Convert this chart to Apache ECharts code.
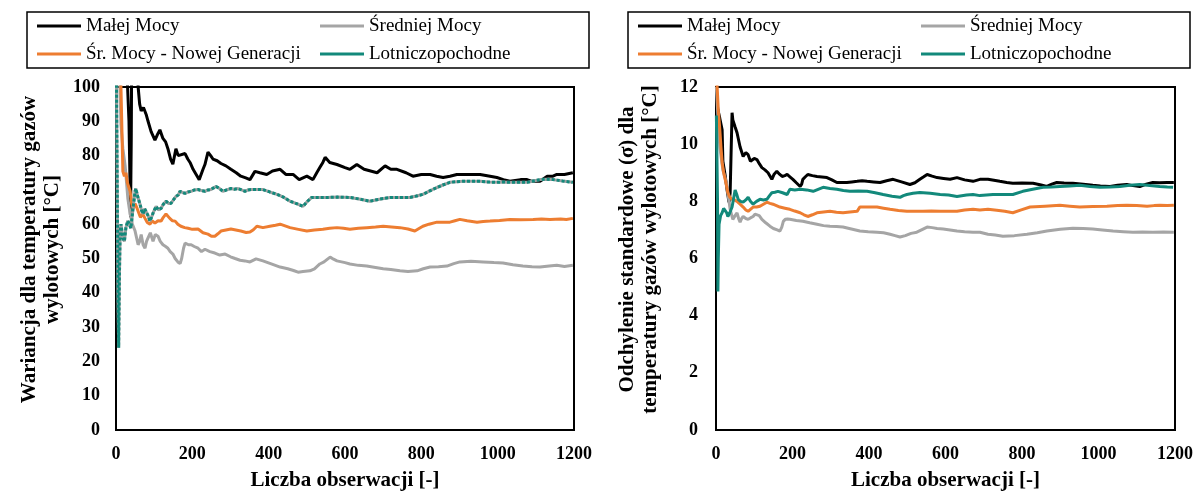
<!DOCTYPE html>
<html>
<head>
<meta charset="utf-8">
<script src="https://cdn.jsdelivr.net/npm/echarts@6/dist/echarts.min.js"></script>
<style>
html,body{margin:0;padding:0;background:#fff;}
#chart{width:1198px;height:496px;}
</style>
</head>
<body>
<div id="chart"></div>
<script>
// Series names
const seriesNames = ['Małej Mocy', 'Średniej Mocy', 'Śr. Mocy - Nowej Generacji', 'Lotniczopochodne'];

// Left chart: variance [°C] vs number of observations
const varMalej = [[1,135],[8,128],[16,118],[24,108],[30,101],[34,90],[37,70],[38,62],[40,85],[42,128],[48,124],[55,108],[58,100],[62,95],[66,93],[72,94],[79,92],[84,90],[92,87],[102,84.5],[108,86],[115,87.5],[123,85],[130,84],[136,82],[143,79],[149,77.5],[157,82],[163,80],[168,80],[181,80.6],[188,79],[194,78],[202,76],[210,74.5],[218,73],[223,72.5],[228,76],[233,77.4],[241,81],[248,80],[254,79],[265,78.5],[275,77.7],[288,77],[301,76],[315,75],[327,74],[340,73.5],[351,73],[364,75.4],[377,75],[395,74.5],[410,75.5],[430,76],[445,74.5],[464,74.5],[480,73],[500,74],[516,73],[526,75],[534,76.5],[542,78],[548,79.5],[560,78],[579,77.4],[600,76.5],[613,76],[631,77.4],[650,76],[684,75],[705,77],[720,76],[736,76],[760,75],[778,74],[800,74.5],[823,74.5],[840,74],[857,73.6],[875,74],[893,74.5],[920,74.5],[954,74.5],[980,74],[998,73.6],[1015,73],[1032,72.5],[1060,73],[1077,73],[1090,72.5],[1111,72.5],[1130,74],[1145,74],[1155,74.5],[1175,74.5],[1197,75]];
const varSredniej = [[1,140],[5,125],[9,105],[13,89],[18,82],[24,77],[31,67.5],[37,63],[43,60],[50,58],[54,56],[58,54],[62,55],[66,57],[71,54],[76,53],[80,55],[84,56],[90,57.5],[97,55],[103,57],[110,56.5],[116,55],[123,54],[130,53.5],[136,53],[142,52],[149,51.3],[155,50],[162,49],[168,48.5],[172,50],[177,53],[181,54.5],[190,54],[197,54],[205,53.5],[215,53],[224,52],[233,52.7],[246,52],[259,51.6],[272,51],[286,51.3],[300,50.5],[312,50],[325,49.5],[338,49.3],[351,49],[367,49.9],[385,49.3],[405,48.5],[430,47.5],[450,47],[465,46.5],[477,46],[490,46.2],[508,46.4],[520,47],[534,48.4],[545,49],[555,49.9],[561,50.4],[570,49.8],[579,49.3],[600,48.8],[613,48.4],[635,48],[657,47.8],[680,47.4],[700,47],[720,46.8],[744,46.4],[765,46.2],[789,46.4],[805,47],[823,47.5],[845,47.6],[867,47.8],[885,48.5],[901,49],[930,49.2],[962,49],[990,48.8],[1014,48.7],[1040,48.2],[1066,47.8],[1090,47.6],[1111,47.5],[1135,47.8],[1155,48],[1175,47.7],[1197,48]];
const varNowej = [[1,150],[5,130],[10,112],[13,100],[16,85],[18,75.4],[22,74],[26,75],[30,72],[37,69.6],[41,66],[45,64.6],[50,66],[54,65],[58,63.8],[64,62],[70,63],[76,61.7],[82,60.5],[89,60],[95,61],[102,60.3],[110,61],[118,60.9],[124,62],[131,63],[136,62.5],[141,61.7],[148,61],[155,60.9],[162,60],[170,59.4],[180,59],[189,58.8],[200,58.5],[215,58.6],[228,57.5],[241,57.1],[250,56.5],[259,56.5],[267,57.2],[275,58],[288,58.3],[301,58.6],[314,58.3],[327,58],[341,57.6],[351,57.7],[360,58.4],[369,59.4],[385,59],[403,59.4],[418,59.7],[430,60],[443,59.5],[456,59],[478,58.5],[500,58],[520,58.3],[542,58.5],[560,58.8],[579,59],[596,58.8],[613,58.5],[635,58.8],[657,59],[680,59.2],[700,59.4],[722,59.2],[744,59],[765,58.6],[783,58],[795,58.8],[804,59.4],[820,60],[841,60.6],[858,60.6],[875,60.6],[888,61],[901,61.4],[920,61],[946,60.6],[962,60.8],[980,60.9],[1005,61.1],[1032,61.4],[1060,61.3],[1093,61.4],[1115,61.5],[1137,61.4],[1165,61.5],[1180,61.4],[1197,61.7]];
const varLotn = [[1,105],[3,75],[5,40],[7,24],[9,45],[11,58],[13,60],[18,56],[22,55],[26,59],[31,61],[35,60],[39,58.8],[44,64],[50,69.6],[52,70.4],[57,68],[63,65.8],[67,64],[71,63],[75,64.5],[79,64.3],[84,62.5],[89,60.9],[93,62],[97,63.2],[105,65.2],[111,64.2],[118,64.6],[124,65.8],[131,66.7],[138,66],[144,66.1],[150,67],[157,68.1],[163,68.5],[168,69.6],[175,69.2],[181,69],[189,69.4],[197,69.6],[206,70],[215,70.1],[224,69.8],[233,69.6],[241,70],[249,70.1],[256,70.6],[262,71],[270,70.5],[280,69.6],[290,70],[301,70.4],[310,70.2],[320,70.4],[329,70],[338,69.6],[346,70],[354,70.1],[367,70.1],[385,70.1],[403,69.4],[422,68.7],[440,67.8],[456,66.7],[473,66],[490,65.2],[500,66.5],[513,67.8],[530,67.8],[553,67.8],[580,67.9],[613,67.8],[640,67.3],[665,66.7],[690,67.3],[718,67.8],[745,67.8],[770,67.8],[787,68.2],[804,68.7],[822,69.7],[841,70.7],[858,71.5],[875,72.2],[892,72.4],[909,72.5],[930,72.5],[954,72.5],[976,72.3],[998,72.2],[1015,72.3],[1032,72.2],[1055,72.2],[1077,72.2],[1094,72.6],[1111,73],[1128,73.1],[1145,73],[1170,72.6],[1197,72.2]];

// Right chart: standard deviation [°C]
const sdMalej = [[1,11.6],[5,11.2],[10,10.9],[16,10.5],[18,9.4],[24,8.9],[29,8.4],[34,7.97],[37,8.3],[40,10],[42,11.1],[44,10.85],[50,10.6],[55,10.4],[63,9.9],[71,9.57],[78,9.7],[84,9.63],[90,9.4],[94,9.36],[100,9.5],[107,9.46],[114,9.3],[120,9.18],[128,9.1],[136,9],[146,8.77],[152,8.95],[159,9.05],[166,8.95],[173,8.87],[180,8.9],[186,8.94],[194,8.85],[201,8.77],[210,8.65],[220,8.52],[224,8.6],[227,8.77],[233,8.85],[240,8.94],[252,8.9],[264,8.87],[277,8.85],[290,8.83],[303,8.75],[316,8.66],[329,8.66],[342,8.66],[355,8.68],[369,8.7],[382,8.72],[395,8.7],[412,8.68],[429,8.66],[446,8.72],[463,8.77],[485,8.68],[507,8.59],[520,8.65],[533,8.77],[542,8.85],[552,8.94],[565,8.88],[578,8.83],[595,8.8],[612,8.77],[630,8.83],[650,8.75],[672,8.7],[690,8.77],[711,8.77],[742,8.7],[760,8.66],[776,8.63],[800,8.64],[829,8.63],[850,8.57],[865,8.52],[878,8.6],[891,8.66],[910,8.64],[933,8.63],[960,8.6],[985,8.56],[1005,8.54],[1030,8.52],[1050,8.56],[1074,8.59],[1090,8.55],[1108,8.52],[1125,8.6],[1142,8.66],[1160,8.65],[1179,8.66],[1197,8.66]];
const sdSredniej = [[1,12],[3,11.5],[6,10.7],[10,9.9],[14,9.5],[18,9.1],[24,8.8],[29,8.52],[33,8.1],[37,7.72],[44,7.37],[50,7.5],[55,7.6],[59,7.4],[63,7.27],[67,7.4],[71,7.47],[78,7.4],[84,7.37],[90,7.42],[97,7.47],[102,7.55],[107,7.6],[113,7.5],[120,7.37],[130,7.25],[141,7.13],[150,7.05],[160,7],[167,6.96],[172,7.1],[176,7.3],[181,7.37],[187,7.38],[193,7.37],[210,7.33],[227,7.3],[245,7.25],[264,7.2],[281,7.15],[298,7.13],[315,7.12],[332,7.1],[354,7.03],[376,6.96],[398,6.94],[421,6.92],[438,6.9],[455,6.85],[468,6.8],[481,6.75],[495,6.8],[510,6.88],[525,6.92],[540,7.02],[552,7.1],[565,7.08],[578,7.05],[594,7.03],[612,7],[630,6.96],[650,6.94],[672,6.92],[690,6.92],[711,6.85],[730,6.82],[750,6.78],[780,6.8],[813,6.85],[840,6.9],[865,6.96],[900,7.02],[933,7.06],[960,7.05],[985,7.03],[1010,7],[1038,6.96],[1065,6.94],[1090,6.92],[1115,6.93],[1142,6.92],[1170,6.93],[1197,6.92]];
const sdNowej = [[1,12.3],[3,12],[6,11.2],[10,10.5],[13,9.9],[16,9.36],[20,9],[24,8.77],[28,8.5],[31,8.3],[36,8.15],[42,8.07],[48,8.05],[55,8],[63,7.9],[71,7.8],[78,7.7],[84,7.65],[90,7.72],[97,7.8],[106,7.8],[115,7.83],[124,7.9],[133,7.97],[141,7.93],[149,7.9],[158,7.85],[167,7.8],[180,7.76],[193,7.72],[206,7.66],[220,7.6],[230,7.53],[240,7.47],[252,7.53],[264,7.6],[281,7.63],[298,7.65],[315,7.62],[332,7.6],[350,7.63],[369,7.65],[376,7.8],[398,7.8],[421,7.8],[438,7.76],[455,7.72],[477,7.68],[499,7.65],[520,7.65],[541,7.65],[563,7.66],[586,7.65],[608,7.65],[630,7.65],[650,7.7],[672,7.72],[690,7.7],[711,7.72],[734,7.69],[755,7.65],[776,7.6],[798,7.7],[821,7.8],[860,7.83],[899,7.86],[925,7.83],[951,7.8],[985,7.82],[1022,7.83],[1050,7.85],[1074,7.86],[1100,7.85],[1127,7.83],[1145,7.85],[1160,7.86],[1180,7.85],[1197,7.86]];
const sdLotn = [[1,11],[3,10.96],[4,8],[5,4.85],[6,6],[8,7.2],[12,7.5],[16,7.6],[20,7.75],[24,7.8],[28,7.6],[31,7.47],[36,7.6],[42,7.8],[46,8.1],[50,8.4],[54,8.25],[58,8.07],[64,8],[71,7.97],[78,8.05],[84,8.14],[90,8],[97,7.9],[106,8],[115,8.07],[124,8.05],[133,8.07],[140,8.2],[146,8.3],[154,8.32],[162,8.35],[174,8.3],[186,8.24],[193,8.42],[206,8.4],[220,8.42],[237,8.4],[254,8.35],[267,8.42],[280,8.49],[298,8.45],[316,8.42],[333,8.38],[350,8.35],[372,8.36],[395,8.35],[416,8.3],[437,8.24],[460,8.18],[481,8.14],[490,8.2],[499,8.24],[515,8.28],[533,8.31],[560,8.28],[586,8.24],[608,8.22],[630,8.17],[655,8.22],[672,8.24],[690,8.2],[724,8.24],[750,8.24],[776,8.24],[802,8.35],[828,8.42],[855,8.49],[877,8.5],[899,8.52],[925,8.54],[951,8.56],[978,8.52],[1004,8.49],[1030,8.5],[1056,8.52],[1082,8.56],[1108,8.59],[1134,8.55],[1160,8.52],[1180,8.5],[1195,8.49]];

// Axis titles
const xTitle = 'Liczba obserwacji [-]';
const yTitleLeft = 'Wariancja dla temperatury gazów\nwylotowych [°C]';
const yTitleRight = 'Odchylenie standardowe (σ) dla\ntemperatury gazów wylotowych [°C]';

const colors = { black: '#000000', grey: '#a5a5a5', orange: '#ed7d31', teal: '#12897b' };
const FONT = 'Liberation Serif, Times New Roman, serif';

function legendFor(left) {
  return {
    left: left, top: 12, width: 500,
    orient: 'horizontal',
    padding: [4, 60, 4, 10],
    borderColor: '#000', borderWidth: 1.5,
    itemWidth: 44, itemHeight: 3, itemGap: 8,
    icon: 'rect',
    textStyle: { fontFamily: FONT, fontSize: 19, color: '#000', lineHeight: 20 },
    data: [
      { name: seriesNames[0], textStyle: { width: 226 } },
      { name: seriesNames[1], textStyle: { width: 160 } },
      { name: seriesNames[2], textStyle: { width: 226 } },
      { name: seriesNames[3], textStyle: { width: 160 } }
    ]
  };
}

function xAxisFor(gi) {
  return {
    type: 'value', gridIndex: gi, min: 0, max: 1200, interval: 200,
    name: xTitle, nameLocation: 'middle', nameGap: 40,
    nameTextStyle: { fontFamily: FONT, fontSize: 21, fontWeight: 'bold', color: '#000' },
    axisLine: { lineStyle: { color: '#000', width: 2 } },
    axisTick: { show: false },
    splitLine: { show: false },
    axisLabel: { fontFamily: FONT, fontSize: 18, fontWeight: 'bold', color: '#000', margin: 15, formatter: v => String(v) }
  };
}

function yAxisFor(gi, max, interval, name, gap, margin) {
  return {
    type: 'value', gridIndex: gi, min: 0, max: max, interval: interval,
    name: name, nameLocation: 'middle', nameGap: gap, nameRotate: 90,
    nameTextStyle: { fontFamily: FONT, fontSize: 21, fontWeight: 'bold', color: '#000', lineHeight: 23, padding: [0, 0, 0, 18] },
    axisLine: { show: true, lineStyle: { color: '#000', width: 2 } },
    axisTick: { show: false },
    splitLine: { show: false },
    axisLabel: { fontFamily: FONT, fontSize: 18, fontWeight: 'bold', color: '#000', margin: margin, formatter: v => String(v) }
  };
}

function line(name, data, color, gi, extra) {
  return Object.assign({
    name: name, type: 'line', xAxisIndex: gi, yAxisIndex: gi,
    data: data, showSymbol: false, symbol: 'none', smooth: false,
    lineStyle: { color: color, width: 3 },
    itemStyle: { color: color },
    emphasis: { disabled: true },
    animation: false, clip: true
  }, extra || {});
}

const chart = echarts.init(document.getElementById('chart'), null, { renderer: 'canvas' });
chart.setOption({
  backgroundColor: '#fff',
  animation: false,
  legend: [legendFor(27), legendFor(628)],
  grid: [
    { left: 116, right: 624, top: 87, bottom: 64, show: true, borderColor: '#000', borderWidth: 2, backgroundColor: 'transparent' },
    { left: 716, right: 23, top: 87, bottom: 64, show: true, borderColor: '#000', borderWidth: 2, backgroundColor: 'transparent' }
  ],
  xAxis: [xAxisFor(0), xAxisFor(1)],
  yAxis: [
    yAxisFor(0, 100, 10, yTitleLeft, 52, 16),
    yAxisFor(1, 12, 2, yTitleRight, 54, 18)
  ],
  series: [
    line(seriesNames[0], varMalej, colors.black, 0),
    line(seriesNames[1], varSredniej, colors.grey, 0),
    line(seriesNames[2], varNowej, colors.orange, 0),
    line('Lotniczopochodne (tło)', varLotn, colors.grey, 0, { lineStyle: { color: '#9aa0a0', width: 3 } }),
    line(seriesNames[3], varLotn, colors.teal, 0, { lineStyle: { color: colors.teal, width: 3, type: [3, 2] } }),
    line(seriesNames[0], sdMalej, colors.black, 1),
    line(seriesNames[1], sdSredniej, colors.grey, 1),
    line(seriesNames[2], sdNowej, colors.orange, 1),
    line(seriesNames[3], sdLotn, colors.teal, 1)
  ]
});
</script>
</body>
</html>
